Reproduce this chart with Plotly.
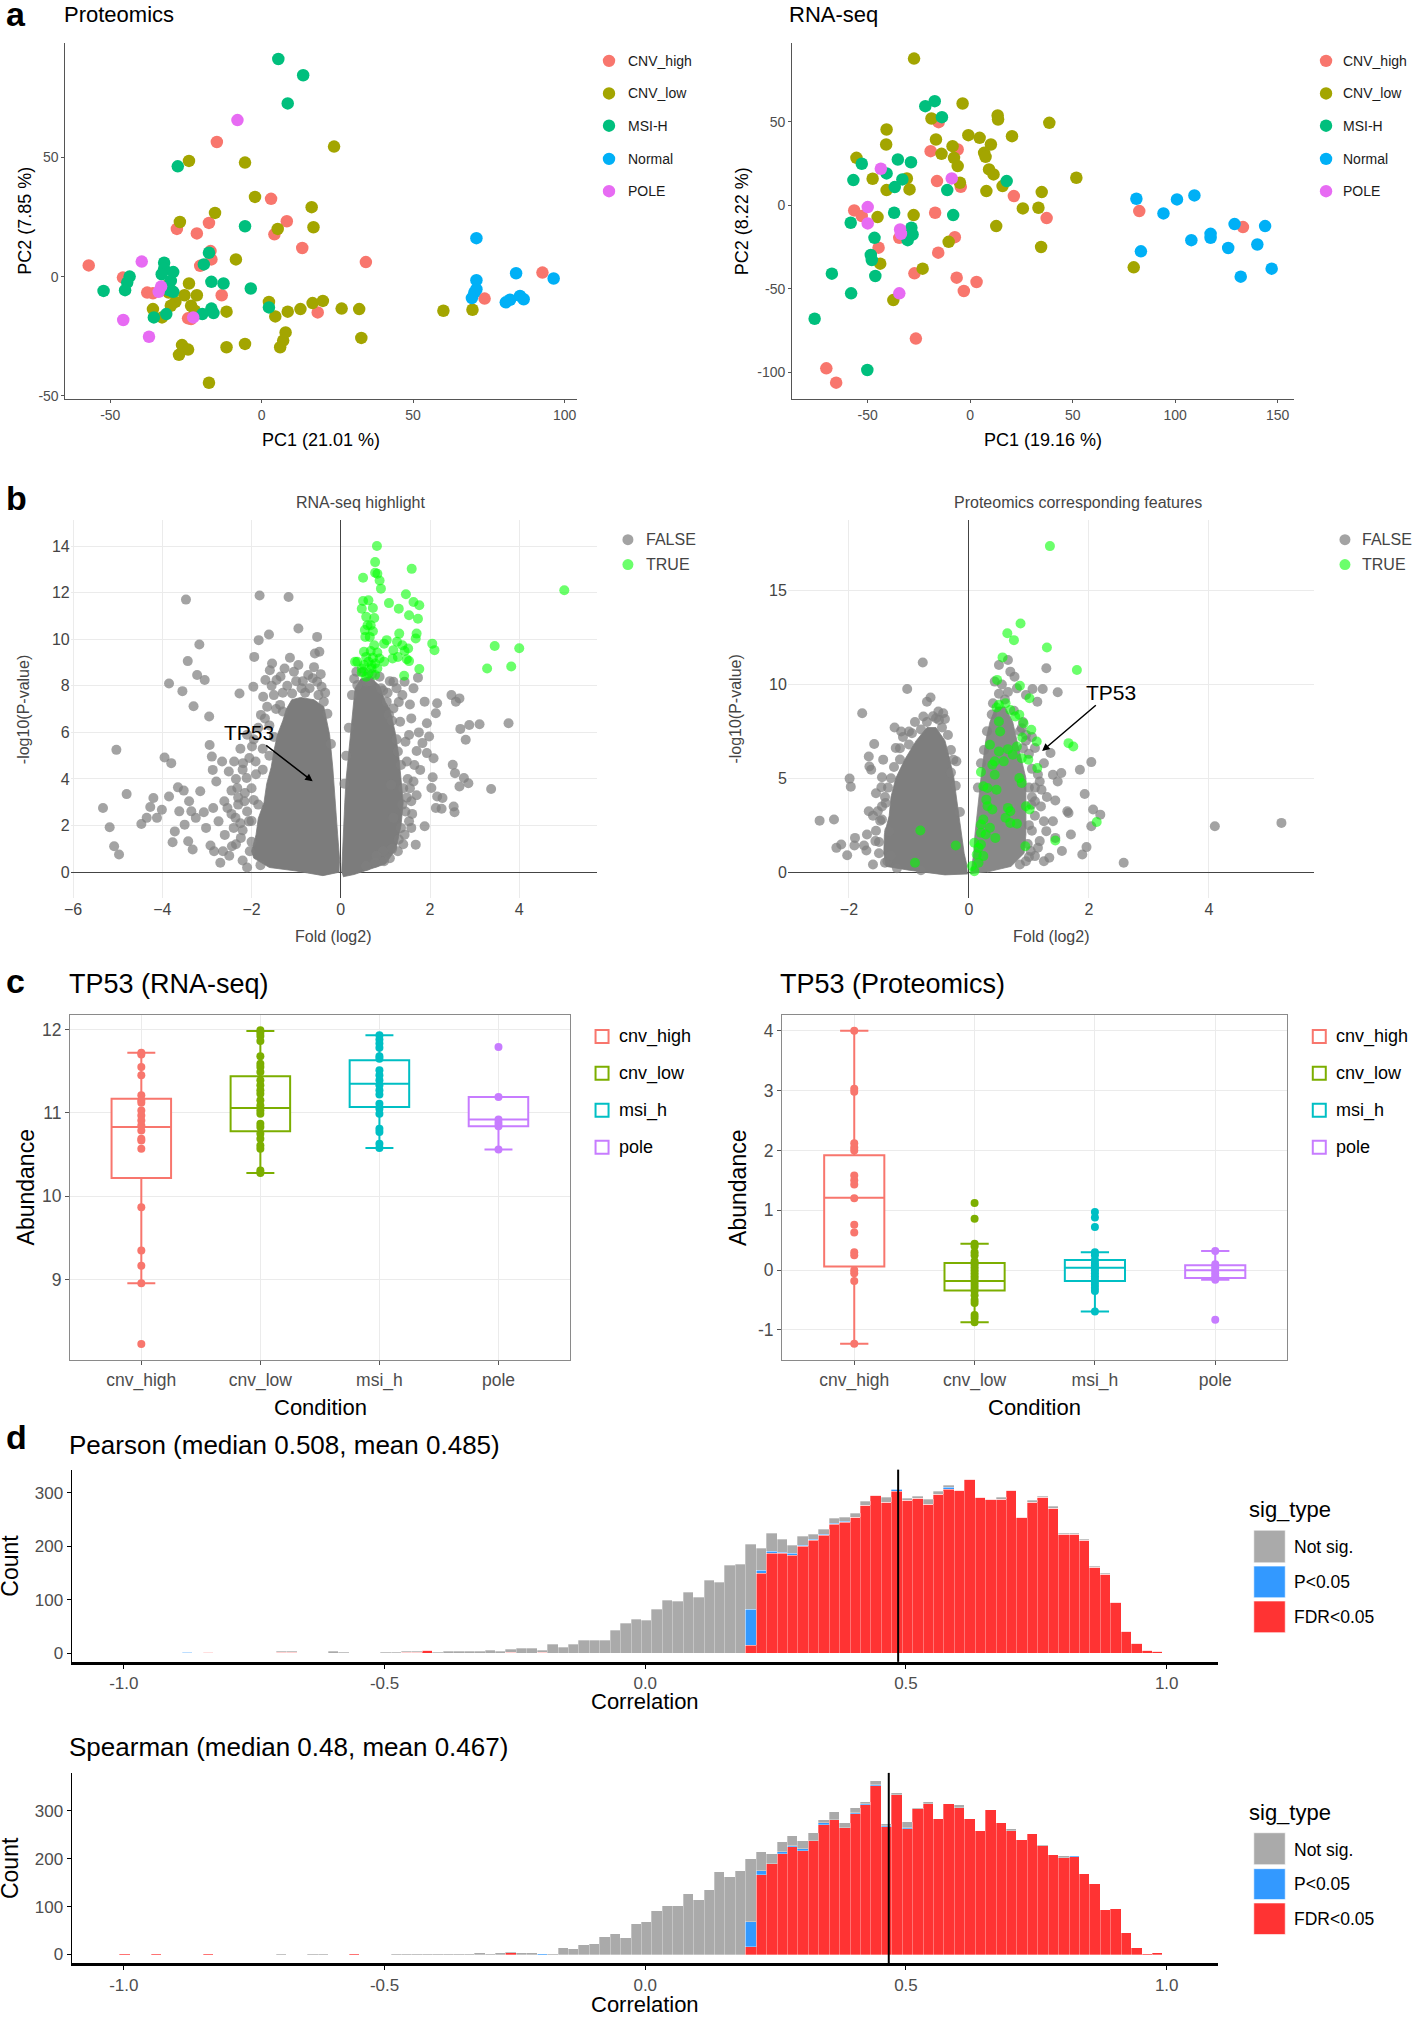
import plotly.graph_objects as go

W, H = 1416, 2017
FONT = 'Liberation Sans, Arial, sans-serif'

# ---------------- a: PCA ----------------
pca_groups = ['CNV_high', 'CNV_low', 'MSI-H', 'Normal', 'POLE']
pca_colors = ['#F8766D', '#A3A500', '#00BF7D', '#00B0F6', '#E76BF3']

prot_pc1 = [
    [-57.1, -45.8, -37.8, -35.9, -28.0, -21.4, -20.3, -17.4, -16.9, -16.6, -14.8, -13.2, -24.3, -23.3,
     3.1, 4.2, 8.3, 13.4, 18.5, 34.4, 73.6, 92.7],
    [-24.0, -5.5, 23.9, -2.2, -15.4, -27.0, 16.5, 17.1, 5.3, -8.5, -24.0, -21.4, -25.5, -28.5, -30.0,
     -35.9, -32.9, -23.3, -22.1, -11.6, 2.4, 4.5, 8.6, 12.8, 16.8, 20.2, 26.4, 32.2, 7.9, 7.1, 6.1,
     -5.5, -11.6, -26.3, -24.3, -27.3, -17.4, 32.9, 60.0, 69.6, -31.5, -30.7],
    [5.5, 13.7, 8.6, -27.7, -5.5, -17.4, -19.1, -32.2, -32.2, -29.2, -43.6, -44.4, -45.1, -52.2, -30.0,
     -30.7, -29.2, -16.6, -12.6, -3.6, 2.4, -31.5, -35.6, -19.6, -16.6, -15.9, -33.0],
    [70.9, 70.9, 70.9, 70.2, 69.4, 84.0, 96.4, 80.6, 82.0, 85.3, 86.5],
    [-8.0, -39.6, -33.2, -34.0, -45.7, -37.2, -22.6],
]
prot_pc2 = [
    [4.7, -0.4, -6.7, -7.0, 20.0, 18.1, 4.5, 22.5, 10.7, 7.2, 56.4, -7.8, -17.5, -17.8,
     32.6, 17.7, 23.2, 12.0, -15.0, 6.1, -9.2, 1.7],
    [48.5, 47.8, 54.5, 33.4, 26.7, 22.9, 29.1, 20.7, 20.0, 7.2, -2.9, -7.8, -7.8, -10.6, -12.2,
     -13.6, -17.1, -12.2, -14.3, -14.7, -10.6, -16.7, -14.7, -13.6, -11.1, -10.2, -13.4, -13.6, -23.4, -26.8, -29.6,
     -28.2, -29.6, -28.7, -30.6, -32.8, -44.5, -25.7, -14.3, -13.9, -3.9, -6.7],
    [91.2, 84.4, 72.6, 46.2, 21.1, 10.0, 5.1, 5.8, 3.3, 1.9, 0.0, -2.5, -5.7, -6.0, -1.8,
     -5.6, -6.4, -2.2, -2.9, -5.0, -12.9, -15.7, -17.1, -15.7, -13.4, -15.3, 1.0],
    [16.1, -1.5, -5.3, -6.7, -9.0, 1.4, -0.8, -10.8, -9.7, -8.1, -9.5],
    [65.6, 6.3, -4.2, -6.4, -18.2, -25.2, -17.1],
]
rna_pc1 = [
    [-70.2, -65.4, -26.5, -56.6, -52.9, -44.7, -34.6, -27.2, -17.1, -15.6, -16.2, -19.3, -15.4, -6.1,
     -4.6, -7.5, -6.6, -3.1, 3.1, 21.3, 37.3, 82.5, 133.1],
    [-27.4, -3.7, 13.4, 13.6, 38.6, -18.9, -40.8, -41.0, -16.7, -14.0, -8.6, -7.9, -6.1, -0.9, 4.6,
     10.1, 20.4, 6.8, 7.5, 9.2, 11.4, 15.8, 7.9, -5.0, 51.8, 34.9, 33.3, 25.7, 12.7, 34.6, -10.5,
     -23.2, -37.5, -43.9, -45.2, -27.6, -55.5, -47.6, -40.8, -29.6, -30.9, 79.8],
    [-75.9, -67.5, -58.1, -50.2, -46.3, -48.5, -48.0, -46.7, -58.3, -57.0, -52.9, -40.8, -35.3, -28.9,
     -33.1, -36.8, -37.1, -28.7, -28.1, -30.5, -21.9, -17.3, -13.8, -11.2, -8.3, 17.8],
    [81.1, 83.3, 94.3, 100.9, 109.4, 107.9, 117.3, 117.3, 125.9, 129.0, 132.0, 140.1, 143.9, 147.1],
    [-43.6, -50.0, -50.0, -9.0, -34.2, -33.8, -34.6],
]
rna_pc2 = [
    [-97.6, -106.2, -79.8, -3.0, -6.4, -25.3, -19.4, -40.7, -4.4, -28.3, 14.6, 32.5, 49.9, 33.5,
     11.2, -19.0, -43.3, -51.3, -45.9, 5.6, -7.6, -3.4, -13.0],
    [88.0, 61.1, 53.9, 51.5, 49.5, 52.1, 45.5, 36.5, 39.5, 30.9, 35.5, 28.5, 23.6, 42.1, 40.5,
     36.5, 41.5, 31.5, 29.1, 21.6, 18.6, 11.6, 8.6, 13.6, 16.6, 8.0, -1.4, -1.8, -12.4, -24.9, -21.8,
     -37.9, -56.7, -34.9, -7.0, -5.8, 28.5, 16.0, 9.2, 9.6, 16.2, -37.1],
    [-67.9, -40.9, -52.7, -98.6, -42.3, -29.7, -32.7, -19.4, -10.4, 15.2, 25.0, 19.2, 27.5, 25.9,
     15.6, 11.0, -4.4, -13.4, -17.4, -20.8, 59.5, 62.5, 52.9, 9.2, -5.8, 14.6],
    [4.0, -27.5, -4.8, 3.6, 6.0, -20.8, -17.0, -19.4, -25.5, -11.2, -42.7, -23.4, -12.4, -37.9],
    [22.0, -1.0, -10.8, 16.2, -14.4, -17.0, -52.7],
]
prot_var = (21.01, 7.85)
rna_var = (19.16, 8.22)

# ---------------- b: volcano plots (fold log2, -log10 p) ----------------
# dense centre of each cloud, as an outline of the overlapping points
rna_core_left = [(-0.03, 0.0), (-0.4, -0.15), (-1.0, 0.05), (-1.6, 0.2), (-1.95, 0.6), (-2.0, 0.9),
                 (-1.9, 1.6), (-1.85, 2.3), (-1.72, 3.0), (-1.66, 3.8), (-1.56, 4.5), (-1.5, 5.2),
                 (-1.42, 5.9), (-1.3, 6.5), (-1.22, 7.0), (-1.1, 7.4), (-0.9, 7.5), (-0.6, 7.4),
                 (-0.38, 7.1), (-0.3, 6.3), (-0.25, 5.9), (-0.18, 4.5), (-0.13, 3.0), (-0.07, 1.6),
                 (-0.02, 0.4)]
rna_core_right = [(0.02, 0.0), (0.04, 1.0), (0.07, 2.0), (0.09, 3.0), (0.12, 4.0), (0.17, 5.0),
                  (0.22, 6.0), (0.27, 7.0), (0.32, 7.9), (0.45, 8.3), (0.7, 8.3), (0.87, 8.0),
                  (1.0, 7.3), (1.1, 7.0), (1.22, 6.0), (1.3, 5.0), (1.35, 4.0), (1.4, 3.0),
                  (1.35, 2.0), (1.24, 1.0), (1.0, 0.35), (0.6, 0.1), (0.3, -0.1), (0.05, -0.2)]
prot_core_left = [(-0.02, -0.1), (-0.4, -0.15), (-1.0, 0.1), (-1.38, 0.3), (-1.42, 1.0), (-1.41, 2.0),
                  (-1.33, 3.0), (-1.30, 4.0), (-1.22, 5.0), (-1.07, 6.0), (-0.88, 7.0), (-0.7, 7.7),
                  (-0.55, 7.7), (-0.4, 7.0), (-0.32, 6.0), (-0.25, 5.0), (-0.21, 4.0), (-0.17, 3.0),
                  (-0.13, 2.0), (-0.08, 1.0), (-0.03, 0.3)]
prot_core_right = [(0.03, -0.1), (0.08, 1.0), (0.1, 2.0), (0.13, 3.0), (0.17, 4.0), (0.2, 5.0),
                   (0.24, 6.0), (0.28, 7.0), (0.35, 8.0), (0.45, 8.8), (0.6, 8.8), (0.73, 8.0),
                   (0.8, 7.0), (0.88, 6.0), (0.95, 5.0), (0.95, 4.0), (0.95, 3.0), (0.95, 2.0),
                   (0.92, 1.0), (0.7, 0.3), (0.3, 0.0)]

rna_false = [
    (-5.33, 2.75), (-5.18, 1.93), (-5.08, 1.11), (-4.97, 0.76), (-5.03, 5.25), (-4.80, 3.35), (-4.47, 2.07),
    (-4.35, 2.33), (-4.27, 2.80), (-4.20, 3.18), (-4.12, 2.33), (-4.01, 2.68), (-3.95, 4.92), (-3.85, 8.10),
    (-3.85, 3.25), (-3.80, 4.68), (-3.77, 1.28), (-3.72, 1.75), (-3.65, 3.64), (-3.62, 2.61), (-3.55, 7.77),
    (-3.52, 3.50), (-3.50, 2.04), (-3.47, 11.70), (-3.43, 9.06), (-3.42, 1.33), (-3.40, 3.04), (-3.35, 2.61),
    (-3.32, 0.97), (-3.30, 7.12), (-3.25, 2.33), (-3.22, 8.46), (-3.17, 9.77), (-3.15, 3.47), (-3.07, 2.57),
    (-3.05, 8.25), (-3.02, 1.90), (-2.95, 6.68), (-2.94, 5.46), (-2.92, 1.14), (-2.89, 4.96), (-2.87, 4.39),
    (-2.86, 2.75), (-2.84, 0.90), (-2.79, 3.89), (-2.74, 2.18), (-2.66, 4.75), (-2.64, 0.90), (-2.61, 3.04),
    (-2.54, 2.75), (-2.51, 4.32), (-2.44, 1.11), (-2.39, 4.75), (-2.36, 2.33), (-2.32, 3.61), (-2.27, 7.67),
    (-2.24, 1.47), (-2.19, 4.68), (-2.16, 3.04), (-2.11, 4.04), (-2.06, 2.18), (-2.04, 0.90), (-1.99, 5.39),
    (-1.96, 7.96), (-1.94, 9.24), (-1.91, 4.75), (-1.84, 9.96), (-1.82, 11.88), (-1.79, 6.75), (-1.74, 7.53),
    (-1.69, 8.25), (-1.61, 10.20), (-1.59, 8.67), (-1.54, 8.96), (-1.44, 8.25), (-1.36, 7.18), (-1.26, 8.74),
    (-1.17, 11.81), (-1.14, 9.20), (-1.09, 7.67), (-0.95, 10.46), (-0.95, 8.89), (-0.88, 7.89), (-0.73, 8.46),
    (-0.63, 8.32), (-0.58, 9.39), (-0.53, 10.10), (-0.48, 9.46), (-0.43, 7.96), (-0.38, 7.32), (-0.53, 8.17),
    (-2.2, 1.8), (-2.1, 2.6), (-2.3, 3.2), (-2.0, 3.6), (-1.9, 4.2), (-2.2, 0.5), (-2.0, 1.3), (-2.4, 1.9),
    (-1.85, 2.9), (-1.75, 5.3), (-1.6, 6.3), (-1.5, 7.6), (-2.1, 5.9), (-2.45, 3.5), (-2.6, 1.6),
    (-1.3, 7.7), (-0.8, 7.7), (-0.5, 7.6), (-1.0, 8.2),
    (-2.5, 0.7), (-2.35, 1.2), (-2.25, 2.1), (-2.45, 2.5), (-2.3, 2.9), (-2.15, 3.4), (-2.35, 4.0),
    (-2.2, 4.4), (-2.05, 4.9), (-2.25, 5.3), (-1.95, 5.7), (-1.85, 6.2), (-1.7, 6.6), (-1.65, 7.1),
    (-1.45, 7.0), (-1.55, 8.0), (-1.35, 8.4), (-1.2, 8.0), (-1.05, 8.6), (-0.85, 8.2), (-0.7, 7.9),
    (-0.6, 8.8), (-0.45, 8.5), (-0.35, 7.7), (-0.3, 6.8), (-0.22, 5.5), (-1.8, 0.3), (-2.1, 0.2),
    (-2.7, 0.4), (-2.0, 2.2), (-1.95, 3.1), (-1.75, 4.4), (-1.6, 5.0), (-1.5, 5.8), (-1.3, 6.9),
    (0.37, 8.03), (0.57, 8.17), (0.87, 8.39), (1.18, 8.17), (1.38, 7.60), (1.43, 8.17), (1.63, 7.89),
    (1.73, 8.35), (1.88, 7.32), (1.93, 6.39), (1.98, 5.82), (2.13, 6.82), (2.16, 7.25), (2.48, 7.60),
    (2.58, 7.32), (2.66, 7.46), (2.68, 6.15), (2.80, 5.68), (2.88, 6.32), (3.11, 6.35), (3.76, 6.39),
    (1.83, 5.54), (1.93, 5.11), (2.08, 4.89), (2.06, 4.07), (2.51, 4.61), (2.56, 4.25), (2.76, 4.04),
    (2.86, 3.82), (2.66, 3.68), (3.37, 3.57), (2.03, 3.61), (2.16, 3.25), (2.28, 3.18), (2.13, 2.75),
    (2.26, 2.72), (2.53, 2.82), (2.55, 2.57), (1.88, 1.97), (1.68, 1.18), (1.58, 3.04), (1.63, 3.89),
    (1.78, 4.39), (1.53, 2.18), (1.43, 1.61), (1.28, 0.90), (1.58, 1.90), (1.38, 2.90), (1.48, 4.75),
    (1.53, 5.89), (1.33, 6.46), (1.58, 6.60), (1.18, 7.03), (1.03, 7.32), (1.08, 6.75), (1.28, 5.18),
    (1.13, 3.75), (1.18, 2.33), (0.97, 0.47), (0.77, 0.40), (0.57, 0.26), (0.3, 8.3), (0.95, 7.8),
    (0.7, 8.5), (1.3, 7.3), (1.45, 5.6), (1.5, 4.0), (1.48, 3.2), (1.4, 1.2), (1.1, 0.6),
    (0.25, 7.6), (0.35, 8.6), (0.5, 8.6), (0.65, 8.2), (0.9, 7.9), (1.05, 7.7), (1.15, 6.5),
    (1.25, 5.7), (1.35, 4.6), (1.4, 3.6), (1.45, 2.6), (1.35, 1.9), (1.3, 1.4), (1.15, 1.0),
    (0.95, 0.9), (0.8, 0.7), (1.55, 3.6), (1.6, 2.5), (1.7, 3.3), (1.65, 4.6), (1.7, 5.2),
    (1.75, 6.0), (1.55, 7.2), (1.25, 7.9), (1.1, 8.2), (0.18, 6.2), (0.12, 5.0), (0.08, 3.8),
]
rna_true = [
    (0.81, 14.0), (0.77, 13.31), (1.59, 13.02), (0.50, 12.64), (0.82, 12.81), (0.77, 12.85), (0.87, 12.52),
    (0.90, 12.17), (5.01, 12.10), (1.46, 11.93), (0.50, 11.64), (0.62, 11.67), (1.08, 11.55), (1.63, 11.60),
    (1.76, 11.46), (0.47, 11.31), (0.72, 11.34), (1.30, 11.31), (1.53, 11.03), (1.73, 10.88), (0.57, 10.96),
    (0.75, 10.91), (0.67, 10.60), (0.54, 10.39), (0.72, 10.34), (1.31, 10.24), (1.70, 10.24), (0.65, 10.10),
    (0.55, 10.10), (1.68, 10.03), (1.03, 9.96), (1.26, 9.89), (0.97, 9.81), (2.05, 9.81), (3.45, 9.71),
    (4.00, 9.61), (1.38, 9.74), (1.51, 9.60), (2.10, 9.53), (0.52, 9.46), (0.67, 9.49), (0.82, 9.43),
    (1.18, 9.53), (1.43, 9.49), (0.57, 9.24), (0.72, 9.20), (0.87, 9.17), (1.16, 9.17), (1.28, 9.24),
    (1.48, 9.14), (0.37, 9.03), (0.62, 9.03), (0.77, 8.96), (0.97, 9.03), (1.53, 9.06), (3.28, 8.74),
    (3.82, 8.83), (0.47, 8.74), (0.69, 8.74), (0.82, 8.74), (1.76, 8.72), (0.47, 8.57), (0.62, 8.53),
    (0.77, 8.46), (1.42, 8.43), (0.57, 8.39), (0.32, 9.03), (0.69, 8.89), (0.52, 8.89), (0.75, 9.74),
    (0.60, 10.60),
]
prot_false = [
    (-2.49, 2.74), (-2.25, 2.80), (-2.21, 1.29), (-2.13, 1.47), (-2.03, 0.90), (-1.99, 4.98), (-1.97, 4.55),
    (-1.90, 1.82), (-1.91, 1.42), (-1.78, 8.46), (-1.75, 1.42), (-1.71, 1.15), (-1.67, 3.24), (-1.67, 6.16),
    (-1.66, 5.63), (-1.63, 5.45), (-1.58, 6.82), (-1.56, 1.65), (-1.52, 3.24), (-1.48, 2.74), (-1.46, 4.52),
    (-1.45, 5.05), (-1.43, 5.99), (-1.39, 3.68), (-1.24, 7.70), (-1.13, 7.49), (-1.03, 9.76), (-1.00, 7.49),
    (-0.77, 11.17), (-0.76, 8.29), (-0.70, 9.08), (-0.64, 9.30), (-0.55, 8.20), (-0.51, 8.55), (-0.43, 8.46),
    (-0.40, 8.16), (-1.22, 6.61), (-1.33, 2.18), (-1.36, 0.58), (-0.21, 5.90), (-0.26, 5.99),
    (-1.5, 1.0), (-1.55, 2.2), (-1.45, 3.5), (-1.35, 4.5), (-1.25, 5.6), (-1.15, 6.6), (-0.95, 7.4),
    (-0.7, 8.0), (-0.35, 7.3), (-0.5, 8.1), (-1.6, 0.4), (-1.2, 0.2), (-0.8, 0.1),
    (-1.5, 1.6), (-1.45, 2.8), (-1.4, 4.0), (-1.3, 5.0), (-1.15, 6.0), (-1.0, 6.8), (-0.8, 7.6),
    (-0.6, 8.3), (-0.45, 7.7), (-0.3, 6.5), (-0.22, 4.6), (-0.15, 3.2), (-1.7, 2.0), (-1.6, 3.0),
    (-1.55, 4.2), (-1.1, 7.2), (-0.9, 8.0), (-0.3, 5.3), (-1.3, 0.9), (-1.4, 0.5),
    (0.43, 10.15), (0.50, 11.03), (0.65, 11.30), (0.69, 10.68), (0.76, 10.41), (0.80, 9.79), (0.95, 9.44),
    (1.06, 9.76), (1.14, 9.08), (1.23, 9.76), (1.29, 10.86), (1.48, 9.58), (0.88, 7.67), (0.95, 7.31),
    (1.10, 6.61), (1.36, 6.34), (1.40, 5.19), (1.48, 4.83), (1.54, 5.28), (2.04, 5.86), (1.85, 5.45),
    (1.93, 4.16), (2.07, 3.33), (2.19, 3.06), (2.04, 2.44), (1.44, 3.81), (1.55, 1.12), (1.70, 2.00),
    (1.66, 3.15), (1.64, 3.24), (1.40, 2.71), (1.25, 2.71), (1.29, 2.18), (1.18, 1.65), (1.34, 0.76),
    (1.25, 0.58), (1.89, 0.94), (1.96, 1.33), (2.58, 0.50), (4.10, 2.44), (5.21, 2.62), (1.18, 4.83),
    (1.21, 4.39), (1.04, 3.59), (1.10, 3.77), (1.44, 1.82), (1.03, 1.12), (1.10, 0.85), (0.95, 0.58),
    (1.0, 4.5), (1.05, 5.5), (1.0, 2.5), (0.98, 1.5), (0.9, 6.6), (0.85, 7.5), (0.6, 9.2), (0.4, 9.0),
    (1.05, 2.2), (1.1, 3.0), (1.05, 4.0), (1.1, 4.5), (1.15, 5.2), (1.0, 6.3), (0.95, 7.0),
    (0.9, 8.0), (0.75, 8.6), (0.65, 9.6), (0.55, 10.0), (0.5, 9.5), (0.38, 8.4), (0.3, 7.5),
    (0.25, 6.5), (0.2, 5.8), (0.15, 4.5), (1.15, 1.3), (1.0, 0.8), (0.85, 0.4), (1.2, 3.5),
    (1.3, 4.0), (1.25, 5.8), (1.05, 7.2),
]
prot_true = [
    (1.35, 17.37), (0.86, 13.25), (0.64, 12.73), (0.75, 12.36), (1.30, 11.97), (0.56, 11.44), (1.80, 10.77),
    (0.47, 10.24), (0.85, 9.93), (1.01, 9.26), (0.50, 8.91), (0.46, 8.77), (0.61, 9.00), (0.69, 8.64),
    (0.77, 8.29), (0.84, 8.38), (0.50, 8.02), (0.91, 7.93), (1.04, 7.58), (0.52, 7.49), (0.89, 7.17),
    (1.13, 6.96), (1.66, 6.87), (1.74, 6.69), (0.35, 6.78), (0.80, 6.69), (0.65, 6.55), (0.50, 6.43),
    (0.73, 6.25), (0.88, 6.07), (0.99, 5.99), (0.43, 5.90), (0.39, 5.72), (0.58, 5.90), (1.14, 5.54),
    (0.20, 5.33), (0.43, 5.19), (0.84, 5.01), (0.88, 4.75), (0.24, 4.57), (0.31, 4.48), (0.46, 4.39),
    (0.29, 3.86), (0.31, 3.51), (0.39, 3.33), (0.65, 3.42), (0.69, 3.24), (0.95, 3.51), (1.01, 3.33),
    (2.13, 2.67), (0.24, 2.80), (0.61, 2.89), (0.20, 2.53), (0.69, 2.62), (0.80, 2.57), (0.35, 2.36),
    (0.20, 2.09), (0.28, 2.00), (0.44, 1.82), (0.09, 1.56), (0.20, 1.47), (0.16, 1.29), (0.94, 1.38),
    (1.44, 1.68), (-0.81, 2.21), (-0.22, 1.42), (-0.90, 0.50), (0.24, 0.85), (0.13, 0.94), (0.05, 0.32),
    (0.09, 0.05), (0.16, 0.50),
]
rna_tp53 = (-0.63, 3.9)
prot_tp53 = (1.22, 6.45)

# ---------------- c: TP53 abundance ----------------
conditions = ['cnv_high', 'cnv_low', 'msi_h', 'pole']
cond_colors = ['#F8766D', '#7CAE00', '#00BFC4', '#C77CFF']

rna_vals = [
    [11.72, 11.70, 11.55, 11.45, 11.21, 11.15, 11.12, 11.03, 10.97, 10.91, 10.85, 10.79, 10.69, 10.67,
     10.57, 9.87, 9.35, 9.17, 8.96, 8.23],
    [11.99, 11.96, 11.92, 11.86, 11.68, 11.59, 11.55, 11.49, 11.39, 11.33, 11.27, 11.23, 11.15, 11.09,
     11.03, 10.99, 10.87, 10.83, 10.75, 10.69, 10.61, 10.57, 10.31, 10.28],
    [11.93, 11.88, 11.83, 11.78, 11.68, 11.65, 11.51, 11.45, 11.39, 11.33, 11.27, 11.22, 11.11, 11.05,
     10.99, 10.81, 10.77, 10.63, 10.58],
    [11.79, 11.19, 10.92, 10.88, 10.84, 10.56],
]
rna_q1 = [10.22, 10.78, 11.07, 10.84]
rna_med = [10.83, 11.06, 11.35, 10.92]
rna_q3 = [11.17, 11.44, 11.63, 11.19]
rna_lo = [8.96, 10.28, 10.58, 10.56]
rna_hi = [11.72, 11.98, 11.93, 11.19]

prot_vals = [
    [4.0, 3.03, 2.98, 2.12, 2.05, 2.0, 1.58, 1.50, 1.43, 1.20, 0.76, 0.63, 0.30, 0.25, 0.0, -0.05, -0.18, -1.23],
    [1.12, 0.86, 0.44, 0.40, 0.30, 0.25, 0.15, 0.10, 0.05, 0.0, -0.05, -0.10, -0.15, -0.2, -0.25, -0.30,
     -0.35, -0.42, -0.50, -0.55, -0.75, -0.80, -0.87],
    [0.97, 0.88, 0.72, 0.30, 0.25, 0.17, 0.12, 0.08, 0.04, 0.0, -0.05, -0.1, -0.15, -0.2, -0.25, -0.30,
     -0.35, -0.69],
    [0.32, 0.10, 0.05, 0.0, -0.05, -0.10, -0.16, -0.83],
]
prot_q1 = [0.06, -0.34, -0.18, -0.13]
prot_med = [1.21, -0.18, 0.04, 0.0]
prot_q3 = [1.92, 0.12, 0.17, 0.08]
prot_lo = [-1.23, -0.87, -0.69, -0.16]
prot_hi = [4.0, 0.44, 0.30, 0.32]

# ---------------- d: correlation histograms ----------------
sig_types = ['Not sig.', 'P<0.05', 'FDR<0.05']
sig_colors = ['#AAAAAA', '#3399FF', '#FF3333']
bin_width = 0.02
bin_centers = [round(0.203 + bin_width * k, 3) for k in range(-60, 40)]

pear_not_sig = ([0] * 15 + [1, 1, 0, 0, 0]
                + [2, 1, 0, 0, 0, 1, 1, 1, 1, 1, 1, 3, 2, 3, 3, 4, 3, 5, 8, 9]
                + [3, 16, 11, 16, 23, 23, 24, 42, 56, 63, 60, 81, 99, 96, 114, 104, 135, 132, 164, 166]
                + [121, 42, 35, 25, 16, 17, 9, 9, 10, 9, 6, 7, 1, 9, 1, 4, 5, 8, 4, 3]
                + [1, 1, 1, 1, 4, 1, 1, 2, 2, 3, 1, 1, 2, 2, 1, 0, 0, 0, 0, 0])
pear_p05 = ([0, 0, 0, 0, 0, 0, 1] + [0] * 13 + [0] * 20 + [0] * 20
            + [68, 6, 4, 2, 2, 2, 1, 1, 1, 1, 1, 0, 0, 0, 3, 1, 0, 0, 0, 3]
            + [0] * 11 + [1] + [0] * 8)
pear_fdr = ([0, 0, 0, 0, 0, 0, 0, 0, 1, 0, 0, 0, 0, 0, 0, 1, 1, 0, 0, 0]
            + [0, 0, 0, 0, 0, 0, 0, 1, 1, 4, 0, 0, 0, 0, 0, 0, 0, 1, 0, 0]
            + [1] + [0] * 19
            + [14, 148, 185, 185, 183, 199, 211, 220, 241, 244, 253, 276, 294, 282, 302, 284, 288, 278, 297, 306]
            + [303, 324, 290, 286, 287, 303, 253, 282, 291, 270, 222, 221, 211, 160, 147, 95, 40, 17, 4, 2])
pear_median, pear_mean = 0.508, 0.485

spear_not_sig = ([0] * 15 + [1, 0, 0, 1, 1]
                 + [0, 0, 0, 0, 0, 0, 1, 2, 1, 2, 2, 1, 2, 2, 3, 2, 3, 2, 4, 4]
                 + [0, 1, 13, 12, 19, 22, 37, 42, 35, 64, 67, 92, 101, 101, 127, 113, 135, 172, 162, 175]
                 + [130, 39, 21, 22, 21, 18, 15, 8, 15, 10, 11, 5, 8, 3, 5, 11, 2, 3, 0, 1]
                 + [6, 0, 0, 0, 0, 5, 0, 0, 2, 0, 5, 0, 0, 0, 0, 0, 0, 0, 0, 0])
spear_p05 = ([0] * 40 + [2] + [0] * 19
             + [53, 8, 0, 4, 3, 3, 0, 3, 2, 0, 2, 1, 2, 2, 0, 2, 1, 0, 0, 0]
             + [0] * 11 + [2] + [0] * 8)
spear_fdr = ([1, 0, 0, 1, 0, 0, 0, 0, 1, 0, 0, 0, 0, 0, 0, 0, 0, 0, 0, 0]
             + [0, 0, 2, 0, 0, 0, 0, 0, 0, 0, 0, 0, 0, 0, 0, 0, 0, 3, 0, 0]
             + [0] * 20
             + [16, 167, 189, 210, 224, 217, 238, 271, 280, 265, 294, 313, 352, 267, 333, 263, 303, 315, 283, 314]
             + [306, 283, 259, 301, 275, 258, 239, 252, 226, 208, 201, 203, 169, 147, 93, 95, 45, 14, 1, 3])
spear_median, spear_mean = 0.48, 0.467


def px(x):
    return x / W


def py(y):
    return 1 - y / H


def txt(x, y, s, size, color='black', xanchor='left', yanchor='middle', angle=0, shift=None):
    if shift is None:
        shift = -5 if xanchor == 'left' else 0
    return dict(x=px(x), y=py(y), xref='paper', yref='paper', text=s, showarrow=False,
                xanchor=xanchor, yanchor=yanchor, textangle=angle, xshift=shift,
                font=dict(size=size, color=color, family=FONT))


fig = go.Figure()
annotations = []
shapes = []

# ---- a ----
for ax, pc1, pc2 in [('', prot_pc1, prot_pc2), ('2', rna_pc1, rna_pc2)]:
    for g, col, xs, ys in zip(pca_groups, pca_colors, pc1, pc2):
        fig.add_trace(go.Scatter(x=xs, y=ys, mode='markers', name=g,
                                 marker=dict(color=col, size=12.5, line=dict(width=0)),
                                 xaxis='x' + ax, yaxis='y' + ax))


# ---- b ----
def add_volcano(ax, cores, false_pts, true_pts, core_colors):
    for core, cc in zip(cores, core_colors):
        fig.add_trace(go.Scatter(x=[p[0] for p in core], y=[p[1] for p in core], mode='lines',
                                 fill='toself', fillcolor=cc, line=dict(width=0.8, color=cc),
                                 xaxis='x' + ax, yaxis='y' + ax, hoverinfo='skip'))
    fig.add_trace(go.Scatter(x=[p[0] for p in false_pts], y=[p[1] for p in false_pts], mode='markers',
                             marker=dict(color='rgba(128,128,128,0.72)', size=10, line=dict(width=0)),
                             xaxis='x' + ax, yaxis='y' + ax))
    fig.add_trace(go.Scatter(x=[p[0] for p in true_pts], y=[p[1] for p in true_pts], mode='markers',
                             marker=dict(color='rgba(0,255,0,0.58)', size=10, line=dict(width=0)),
                             xaxis='x' + ax, yaxis='y' + ax))


add_volcano('3', [rna_core_left, rna_core_right], rna_false, rna_true,
            ['rgb(124,124,124)', 'rgb(124,124,124)'])
add_volcano('4', [prot_core_left, prot_core_right], prot_false, prot_true,
            ['rgb(126,126,126)', 'rgb(136,136,136)'])

# ---- c ----
for ax, vals, q1, med, q3, lo, hi in [('5', rna_vals, rna_q1, rna_med, rna_q3, rna_lo, rna_hi),
                                       ('6', prot_vals, prot_q1, prot_med, prot_q3, prot_lo, prot_hi)]:
    for i, col in enumerate(cond_colors):
        fig.add_trace(go.Box(x=[i], q1=[q1[i]], median=[med[i]], q3=[q3[i]],
                             lowerfence=[lo[i]], upperfence=[hi[i]], width=0.5, whiskerwidth=0.47,
                             fillcolor='white', line=dict(color=col, width=2), boxpoints=False,
                             xaxis='x' + ax, yaxis='y' + ax))
        fig.add_trace(go.Scatter(x=[i] * len(vals[i]), y=vals[i], mode='markers',
                                 marker=dict(color=col, size=8, line=dict(width=0)),
                                 xaxis='x' + ax, yaxis='y' + ax))

# ---- d ----
for ax, series in [('7', [pear_fdr, pear_p05, pear_not_sig]), ('8', [spear_fdr, spear_p05, spear_not_sig])]:
    for counts, name, col in zip(series, sig_types[::-1], sig_colors[::-1]):
        fig.add_trace(go.Bar(x=bin_centers, y=counts, width=bin_width, name=name,
                             marker=dict(color=col, line=dict(color='rgba(255,255,255,0.45)', width=0.7)),
                             xaxis='x' + ax, yaxis='y' + ax))
for ax, m in [('7', pear_mean), ('8', spear_mean)]:
    shapes.append(dict(type='line', xref='x' + ax, yref='y' + ax + ' domain', x0=m, x1=m, y0=0, y1=1,
                       line=dict(color='black', width=2)))

# ---------------- axes ----------------
panels = {
    1: (58.7, 572.5, 43, 400, [-64.8, 104.0], [-51.3, 97.95]),
    2: (789, 1293.6, 43, 400, [-86.9, 158.1], [-116.0, 97.4]),
    3: (64, 592.8, 521.7, 900, [-6.054, 5.74], [-1.10, 15.10]),
    4: (784.7, 1313.9, 521.7, 900, [-3.02, 5.76], [-1.37, 18.74]),
    5: (63.2, 565.7, 1018, 1363, [-0.6, 3.6], [8.044, 12.167]),
    6: (778.9, 1286.8, 1018, 1363, [-0.6, 3.6], [-1.495, 4.255]),
    7: (65, 1216.8, 1473.3, 1666, [-1.1, 1.098], [-16.2, 342.8]),
    8: (65, 1216.8, 1777.3, 1968.3, [-1.1, 1.098], [-18.75, 379.2]),
}


def hyph(vals, fmt='{:g}'):
    return [fmt.format(v).replace('\u2212', '-') for v in vals]


layout_axes = {}
for n, (x0, x1, y0, y1, xr, yr) in panels.items():
    sx = '' if n == 1 else str(n)
    xa = dict(domain=[px(x0), px(x1)], range=xr, anchor='y' + sx, zeroline=False, showgrid=False,
              fixedrange=True)
    ya = dict(domain=[py(y1), py(y0)], range=yr, anchor='x' + sx, zeroline=False, showgrid=False,
              fixedrange=True)
    if n in (1, 2):
        common = dict(showline=True, linecolor='#555555', linewidth=1, ticks='outside', ticklen=3,
                      tickcolor='#555555', tickfont=dict(size=14, color='#4D4D4D', family=FONT))
        xa.update(common)
        ya.update(common)
        xt = [-50, 0, 50, 100] if n == 1 else [-50, 0, 50, 100, 150]
        yt = [-50, 0, 50] if n == 1 else [-100, -50, 0, 50]
        xa.update(tickvals=xt, ticktext=hyph(xt))
        ya.update(tickvals=yt, ticktext=hyph(yt))
    elif n in (3, 4):
        common = dict(showline=False, showgrid=True, gridcolor='#EBEBEB', gridwidth=1, zeroline=True,
                      zerolinecolor='#444444', zerolinewidth=1, ticks='',
                      tickfont=dict(size=16, color='#444444', family=FONT))
        xa.update(common, dtick=2, tick0=0)
        ya.update(common, dtick=2 if n == 3 else 5, tick0=0)
    elif n in (5, 6):
        common = dict(showline=True, mirror=True, linecolor='#8A8A8A', linewidth=1, showgrid=True,
                      gridcolor='#EBEBEB', gridwidth=1, ticks='outside', ticklen=4, tickcolor='#555555',
                      tickfont=dict(size=17.5, color='#4D4D4D', family=FONT))
        xa.update(common, tickvals=[0, 1, 2, 3], ticktext=conditions)
        yt = [9, 10, 11, 12] if n == 5 else [-1, 0, 1, 2, 3, 4]
        ya.update(common, tickvals=yt, ticktext=hyph(yt))
    else:
        tf = dict(size=17, color='#4D4D4D', family=FONT)
        xt = [-1.0, -0.5, 0.0, 0.5, 1.0]
        xa.update(showline=True, linecolor='black', linewidth=2.5, ticks='outside', ticklen=4,
                  tickcolor='black', tickwidth=1.2, tickfont=tf, tickvals=xt,
                  ticktext=hyph(xt, '{:.1f}'))
        ya.update(showline=True, linecolor='black', linewidth=1.2, ticks='outside', ticklen=4,
                  tickcolor='black', tickwidth=1.2, tickfont=tf, tickvals=[0, 100, 200, 300])
    layout_axes['xaxis' + sx] = xa
    layout_axes['yaxis' + sx] = ya

# ---------------- texts ----------------
for letter, y in [('a', 14), ('b', 499), ('c', 983), ('d', 1441)]:
    annotations.append(txt(0, y, '<b>%s</b>' % letter, 34, shift=-3))

# a
annotations.append(txt(60, 14.5, 'Proteomics', 22))
annotations.append(txt(789, 14.5, 'RNA-seq', 22))
annotations.append(txt(316, 441.5, 'PC1 (%.2f %%)' % prot_var[0], 18, xanchor='center'))
annotations.append(txt(1041, 441.5, 'PC1 (%.2f %%)' % rna_var[0], 18, xanchor='center'))
annotations.append(txt(18, 221.5, 'PC2 (%.2f %%)' % prot_var[1], 18, xanchor='center', angle=-90))
annotations.append(txt(739, 221.5, 'PC2 (%.2f %%)' % rna_var[1], 18, xanchor='center', angle=-90))
leg_y = [61, 93.7, 126, 159.3, 191.7]
for cx, tx in [(605, 627), (1325.6, 1346)]:
    for g, col, y in zip(pca_groups, pca_colors, leg_y):
        shapes.append(dict(type='circle', xref='paper', yref='paper', xsizemode='pixel',
                           ysizemode='pixel', xanchor=px(cx), yanchor=py(y), x0=-6.2, x1=6.2,
                           y0=-6.2, y1=6.2, fillcolor=col, line=dict(width=0)))
        annotations.append(txt(tx, y, g, 14, color='#1A1A1A'))

# b
annotations.append(txt(355.8, 504, 'RNA-seq highlight', 16, color='#444444', xanchor='center'))
annotations.append(txt(1076.8, 504, 'Proteomics corresponding features', 16, color='#444444',
                       xanchor='center'))
annotations.append(txt(328, 939, 'Fold (log2)', 16, color='#444444', xanchor='center'))
annotations.append(txt(1049, 939, 'Fold (log2)', 16, color='#444444', xanchor='center'))
annotations.append(txt(16, 711, '-log10(P-value)', 16, color='#444444', xanchor='center', angle=-90))
annotations.append(txt(732, 711, '-log10(P-value)', 16, color='#444444', xanchor='center', angle=-90))
for cx, tx in [(624, 644.7), (1344.6, 1365)]:
    for lab, col, y in [('FALSE', 'rgba(128,128,128,0.72)', 541), ('TRUE', 'rgba(0,255,0,0.58)', 566)]:
        shapes.append(dict(type='circle', xref='paper', yref='paper', xsizemode='pixel',
                           ysizemode='pixel', xanchor=px(cx), yanchor=py(y), x0=-5.5, x1=5.5,
                           y0=-5.5, y1=5.5, fillcolor=col, line=dict(width=0)))
        annotations.append(txt(tx, y, lab, 16, color='#444444'))
annotations.append(dict(x=rna_tp53[0], y=rna_tp53[1], xref='x3', yref='y3', ax=-2.05, ay=6.0,
                        axref='x3', ayref='y3', text='TP53', showarrow=True, arrowhead=2,
                        arrowsize=1, arrowwidth=1.5, arrowcolor='black',
                        font=dict(size=21, color='black', family=FONT)))
annotations.append(dict(x=prot_tp53[0], y=prot_tp53[1], xref='x4', yref='y4', ax=2.37, ay=9.58,
                        axref='x4', ayref='y4', text='TP53', showarrow=True, arrowhead=2,
                        arrowsize=1, arrowwidth=1.5, arrowcolor='black',
                        font=dict(size=21, color='black', family=FONT)))

# c
annotations.append(txt(65.5, 986, 'TP53 (RNA-seq)', 27))
annotations.append(txt(780, 986, 'TP53 (Proteomics)', 27))
annotations.append(txt(314.7, 1411, 'Condition', 22, xanchor='center'))
annotations.append(txt(1033, 1411, 'Condition', 22, xanchor='center'))
annotations.append(txt(19, 1190.5, 'Abundance', 23, xanchor='center', angle=-90))
annotations.append(txt(734, 1190.5, 'Abundance', 23, xanchor='center', angle=-90))
for sx, tx in [(598, 618.5), (1318.8, 1339)]:
    for k, (c, col) in enumerate(zip(conditions, cond_colors)):
        y = 1039 + 37 * k
        shapes.append(dict(type='rect', xref='paper', yref='paper', xsizemode='pixel',
                           ysizemode='pixel', xanchor=px(sx), yanchor=py(y), x0=-6.5, x1=6.5,
                           y0=-6.5, y1=6.5, fillcolor='white', line=dict(color=col, width=2)))
        annotations.append(txt(tx, y, c, 18))

# d
annotations.append(txt(65, 1449, 'Pearson (median %g, mean %g)' % (pear_median, pear_mean), 26))
annotations.append(txt(65, 1751, 'Spearman (median %g, mean %g)' % (spear_median, spear_mean), 26))
annotations.append(txt(641, 1706, 'Correlation', 22, xanchor='center'))
annotations.append(txt(641, 2009, 'Correlation', 22, xanchor='center'))
annotations.append(txt(3, 1569.6, 'Count', 23, xanchor='center', angle=-90))
annotations.append(txt(3, 1872.7, 'Count', 23, xanchor='center', angle=-90))
for ty, keys, labs in [(1513, [(1534, 1566.7), (1570, 1601.7), (1605, 1636.7)], [1551, 1585.7, 1621]),
                       (1816.7, [(1837.3, 1869.3), (1873.3, 1904.3), (1907.7, 1939.3)],
                        [1854.3, 1888.3, 1924])]:
    annotations.append(txt(1251, ty, 'sig_type', 22))
    for (k0, k1), ly, name, col in zip(keys, labs, sig_types, sig_colors):
        shapes.append(dict(type='rect', xref='paper', yref='paper', x0=px(1253), x1=px(1284.6),
                           y0=py(k1), y1=py(k0), fillcolor=col,
                           line=dict(color='rgba(255,255,255,0.6)', width=1)))
        annotations.append(txt(1296, ly, name, 17.5))

fig.update_layout(
    width=W, height=H,
    margin=dict(l=0, r=0, t=0, b=0),
    paper_bgcolor='white', plot_bgcolor='white',
    showlegend=False,
    barmode='stack', bargap=0, boxmode='overlay',
    font=dict(family=FONT),
    annotations=annotations,
    shapes=shapes,
    **layout_axes,
)

fig.write_html("out.html", config={'displayModeBar': False},
               post_script="document.body.style.margin='0';")
